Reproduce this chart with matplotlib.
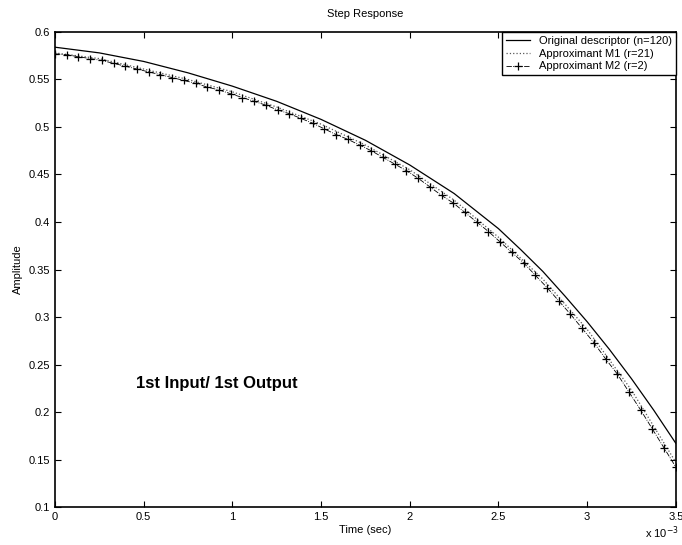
import numpy as np
import matplotlib
matplotlib.use("Agg")
import matplotlib.pyplot as plt

plt.rcParams['font.family'] = ['Liberation Sans', 'DejaVu Sans']

# time in units of 1e-3 s
t_orig = [0.0, 0.25, 0.5, 0.75, 1.0, 1.25, 1.5, 1.75, 2.0, 2.25, 2.5, 2.625, 2.75,
          2.875, 3.0, 3.125, 3.25, 3.375, 3.5]
y_orig = [0.584, 0.578, 0.569, 0.557, 0.543, 0.527, 0.508, 0.486, 0.460, 0.430,
          0.393, 0.371, 0.348, 0.322, 0.295, 0.266, 0.235, 0.202, 0.167]

t_m1 = [0.0, 0.25, 0.5, 0.75, 1.0, 1.25, 1.5, 1.75, 2.0, 2.25, 2.5, 2.75, 3.0, 3.25, 3.5]
y_m1 = [0.578, 0.572, 0.561, 0.550, 0.537, 0.521, 0.503, 0.481, 0.455, 0.423,
        0.384, 0.340, 0.287, 0.223, 0.147]

t_m2 = np.linspace(0, 3.5, 54)
y_m2 = [0.577, 0.576, 0.574, 0.572, 0.570, 0.567, 0.564, 0.561, 0.558, 0.555,
        0.552, 0.549, 0.546, 0.542, 0.539, 0.535, 0.531, 0.527, 0.523, 0.518,
        0.514, 0.509, 0.504, 0.498, 0.492, 0.487, 0.481, 0.475, 0.468, 0.461,
        0.454, 0.446, 0.437, 0.428, 0.420, 0.410, 0.400, 0.390, 0.379, 0.368,
        0.357, 0.344, 0.331, 0.317, 0.303, 0.288, 0.273, 0.256, 0.240, 0.221,
        0.202, 0.182, 0.162, 0.142]

xticks = [0, 0.5, 1, 1.5, 2, 2.5, 3, 3.5]
xlabels = ["0", "0.5", "1", "1.5", "2", "2.5", "3", "3.5"]
yticks = [0.1, 0.15, 0.2, 0.25, 0.3, 0.35, 0.4, 0.45, 0.5, 0.55, 0.6]
ylabels = ["0.1", "0.15", "0.2", "0.25", "0.3", "0.35", "0.4", "0.45", "0.5", "0.55", "0.6"]

fig = plt.figure(figsize=(6.82, 5.45), dpi=100)
ax = fig.add_axes([0.0806, 0.0697, 0.9104, 0.8716])

ax.plot(t_orig, y_orig, '-', color='black', lw=0.9, label='Original descriptor (n=120)')
ax.plot(t_m1, y_m1, ':', color='0.35', lw=0.9, label='Approximant M1 (r=21)')
ax.plot(t_m2, y_m2, '-.', color='black', lw=0.6, marker='+', markersize=6,
        markeredgewidth=0.9, label='Approximant M2 (r=2)')

ax.set_xlim(0, 3.5)
ax.set_ylim(0.1, 0.6)
ax.set_xticks(xticks)
ax.set_xticklabels(xlabels)
ax.set_yticks(yticks)
ax.set_yticklabels(ylabels)
ax.tick_params(direction='in', top=True, right=True, labelsize=8, length=4, width=0.8)
for s in ax.spines.values():
    s.set_linewidth(1.2)

ax.set_title('Step Response', fontsize=8, pad=11)
ax.set_xlabel('Time (sec)', fontsize=8, labelpad=2)
ax.set_ylabel('Amplitude', fontsize=8, labelpad=4)
fig.text(0.946, 0.008, r'x 10$^{-3}$', fontsize=8, ha='left', va='bottom')

ax.text(0.456, 0.230, '1st Input/ 1st Output', fontsize=12, fontweight='bold',
        ha='left', va='center')

leg = ax.legend(loc='upper right', fontsize=8, frameon=True, fancybox=False,
                edgecolor='black', framealpha=1, borderaxespad=0.0,
                handlelength=2.2, borderpad=0.35, labelspacing=0.25, shadow=False)
leg.get_frame().set_linewidth(1.0)

fig.savefig('out.png', dpi=100)
